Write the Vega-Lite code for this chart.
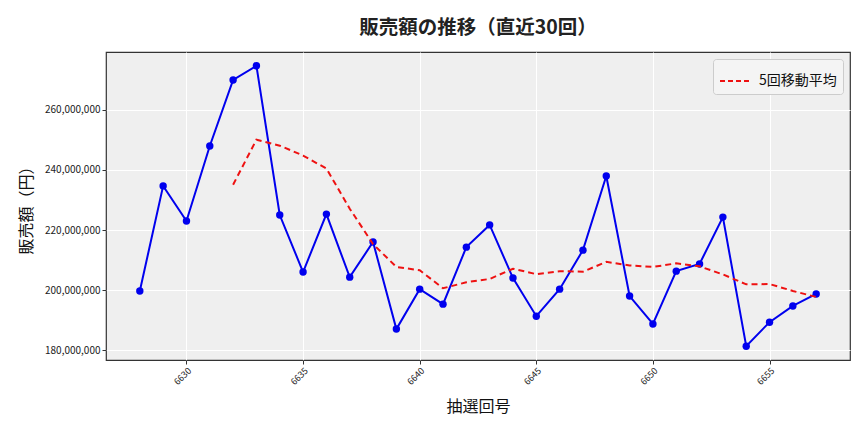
{
  "$schema": "https://vega.github.io/schema/vega-lite/v6.json",
  "width": 744,
  "height": 308,
  "autosize": {"type": "none"},
  "padding": {"left": 106, "top": 52, "right": 14, "bottom": 72},
  "background": "white",
  "title": {"text": "販売額の推移（直近30回）", "font": "Noto Sans CJK JP", "fontSize": 19.5, "fontWeight": "bold", "color": "#222", "anchor": "middle", "offset": 14},
  "config": {
    "view": {"fill": "#EFEFEF", "stroke": "#333", "strokeWidth": 1.2},
    "axis": {"gridColor": "white", "gridWidth": 1, "domain": false, "tickColor": "#333", "tickSize": 4, "labelFont": "Noto Sans CJK JP", "labelFontSize": 10, "labelColor": "#222", "titleFont": "Noto Sans CJK JP", "titleFontSize": 16, "titleFontWeight": "normal", "titleColor": "#111"}
  },
  "data": {"values": [
    {"draw": 6628, "sales": 199700000, "ma": null},
    {"draw": 6629, "sales": 234700000, "ma": null},
    {"draw": 6630, "sales": 223000000, "ma": null},
    {"draw": 6631, "sales": 248000000, "ma": null},
    {"draw": 6632, "sales": 270000000, "ma": 235100000},
    {"draw": 6633, "sales": 274700000, "ma": 250100000},
    {"draw": 6634, "sales": 225000000, "ma": 248100000},
    {"draw": 6635, "sales": 206000000, "ma": 244800000},
    {"draw": 6636, "sales": 225300000, "ma": 240500000},
    {"draw": 6637, "sales": 204300000, "ma": 227100000},
    {"draw": 6638, "sales": 216000000, "ma": 215300000},
    {"draw": 6639, "sales": 187000000, "ma": 207700000},
    {"draw": 6640, "sales": 200300000, "ma": 206600000},
    {"draw": 6641, "sales": 195300000, "ma": 200600000},
    {"draw": 6642, "sales": 214300000, "ma": 202600000},
    {"draw": 6643, "sales": 221700000, "ma": 203700000},
    {"draw": 6644, "sales": 204000000, "ma": 207100000},
    {"draw": 6645, "sales": 191300000, "ma": 205300000},
    {"draw": 6646, "sales": 200300000, "ma": 206300000},
    {"draw": 6647, "sales": 213300000, "ma": 206100000},
    {"draw": 6648, "sales": 238000000, "ma": 209400000},
    {"draw": 6649, "sales": 198000000, "ma": 208200000},
    {"draw": 6650, "sales": 188700000, "ma": 207700000},
    {"draw": 6651, "sales": 206300000, "ma": 208900000},
    {"draw": 6652, "sales": 208700000, "ma": 207900000},
    {"draw": 6653, "sales": 224300000, "ma": 205200000},
    {"draw": 6654, "sales": 181300000, "ma": 201900000},
    {"draw": 6655, "sales": 189300000, "ma": 202000000},
    {"draw": 6656, "sales": 194700000, "ma": 199700000},
    {"draw": 6657, "sales": 198700000, "ma": 197700000}
  ]},
  "encoding": {
    "x": {"field": "draw", "type": "quantitative", "scale": {"domain": [6626.55, 6658.45], "nice": false, "zero": false},
      "axis": {"values": [6630, 6635, 6640, 6645, 6650, 6655], "format": "d", "labelAngle": -45, "labelAlign": "right", "labelBaseline": "top", "labelFontSize": 9, "title": "抽選回号", "titlePadding": 12}}
  },
  "layer": [
    {
      "mark": {"type": "line", "color": "#0000EE", "strokeWidth": 2, "point": {"filled": true, "size": 55, "color": "#0000EE"}},
      "encoding": {
        "y": {"field": "sales", "type": "quantitative", "scale": {"domain": [176700000, 279300000], "nice": false, "zero": false},
          "axis": {"values": [180000000, 200000000, 220000000, 240000000, 260000000], "format": ",d", "title": "販売額（円）", "titlePadding": 10}}
      }
    },
    {
      "transform": [{"filter": "datum.ma != null"}],
      "mark": {"type": "line", "strokeWidth": 2, "strokeDash": [6, 4]},
      "encoding": {
        "y": {"field": "ma", "type": "quantitative"},
        "color": {"datum": "5回移動平均", "type": "nominal", "scale": {"range": ["#EE1111"]},
          "legend": {"title": null, "orient": "top-right", "offset": 7, "symbolType": "stroke", "symbolDash": [5, 3], "symbolStrokeWidth": 2, "symbolSize": 900, "labelFont": "Noto Sans CJK JP", "labelFontSize": 14, "labelColor": "#111", "labelOffset": 8, "fillColor": "#F4F4F4", "strokeColor": "#CCCCCC", "padding": 6, "cornerRadius": 3}}
      }
    }
  ]
}
